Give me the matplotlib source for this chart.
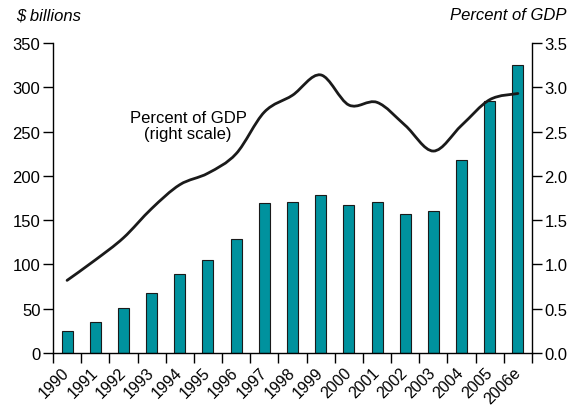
import numpy as np
import matplotlib.pyplot as plt
from matplotlib.path import Path
from matplotlib.patches import PathPatch

plt.rcParams['font.family'] = ['Liberation Sans', 'DejaVu Sans']
plt.rcParams['font.size'] = 12

years = ['1990', '1991', '1992', '1993', '1994', '1995', '1996', '1997', '1998',
         '1999', '2000', '2001', '2002', '2003', '2004', '2005', '2006e']
# $ billions (left scale)
billions = [25, 35, 51, 68, 89, 105, 129, 169, 170, 178, 167, 171, 157, 160, 218, 284, 325]
# percent of GDP (right scale)
pct_gdp = [0.82, 1.05, 1.30, 1.63, 1.90, 2.03, 2.25, 2.72, 2.91, 3.14, 2.80, 2.83,
           2.57, 2.28, 2.57, 2.86, 2.93]

fig = plt.figure(figsize=(5.74, 4.06), dpi=100)
ax = fig.add_axes([0.0923, 0.1281, 0.8345, 0.7635])
x = np.arange(len(years))

ax.bar(x, billions, width=0.39, color='#00929e', edgecolor='#1a1a1a', linewidth=0.8, zorder=2)
ax.set_xlim(-0.5, len(years) - 0.5)
ax.set_ylim(0, 350)
ax.set_yticks(range(0, 351, 50))
ax.spines['top'].set_visible(False)
ax.spines['right'].set_visible(False)
ax.set_xticks(x)
ax.set_xticklabels(years, rotation=45, ha='right', va='center', rotation_mode='anchor',
                   fontsize=11.5)
ax.tick_params(axis='x', length=0, pad=12)
ax.set_xticks(np.arange(-0.5, len(years), 1), minor=True)
ax.tick_params(axis='x', which='minor', length=7, width=1)
ax.tick_params(axis='y', length=7, width=1, pad=2)
for s in ax.spines.values():
    s.set_linewidth(1)

ax2 = ax.twinx()
ax2.set_ylim(0, 3.5)
ax2.set_yticks(np.arange(0, 3.51, 0.5))
ax2.set_yticklabels(['%.1f' % v for v in np.arange(0, 3.51, 0.5)])
ax2.tick_params(axis='y', length=7, width=1, pad=2)
for name in ['top', 'left', 'bottom']:
    ax2.spines[name].set_visible(False)
ax2.spines['right'].set_linewidth(1)

# smooth curve through the points (Catmull-Rom as Bezier segments)
pts = np.column_stack([x, pct_gdp]).astype(float)
verts = [pts[0]]
codes = [Path.MOVETO]
for i in range(len(pts) - 1):
    p0 = pts[i - 1] if i > 0 else pts[i]
    p1, p2 = pts[i], pts[i + 1]
    p3 = pts[i + 2] if i + 2 < len(pts) else pts[i + 1]
    verts += [p1 + (p2 - p0) / 6, p2 - (p3 - p1) / 6, p2]
    codes += [Path.CURVE4] * 3
ax2.add_patch(PathPatch(Path(verts, codes), fill=False, lw=2, edgecolor='#1a1a1a',
                        capstyle='round', zorder=3))

ax2.text(4.3, 2.57, 'Percent of GDP\n(right scale)', ha='center', va='center',
         linespacing=1.1)

fig.text(16 / 574, 1 - 16 / 406, '$ billions', style='italic', va='center', ha='left')
fig.text(567 / 574, 1 - 16 / 406, 'Percent of GDP', style='italic', va='center', ha='right')

plt.savefig('out.png', dpi=100)
